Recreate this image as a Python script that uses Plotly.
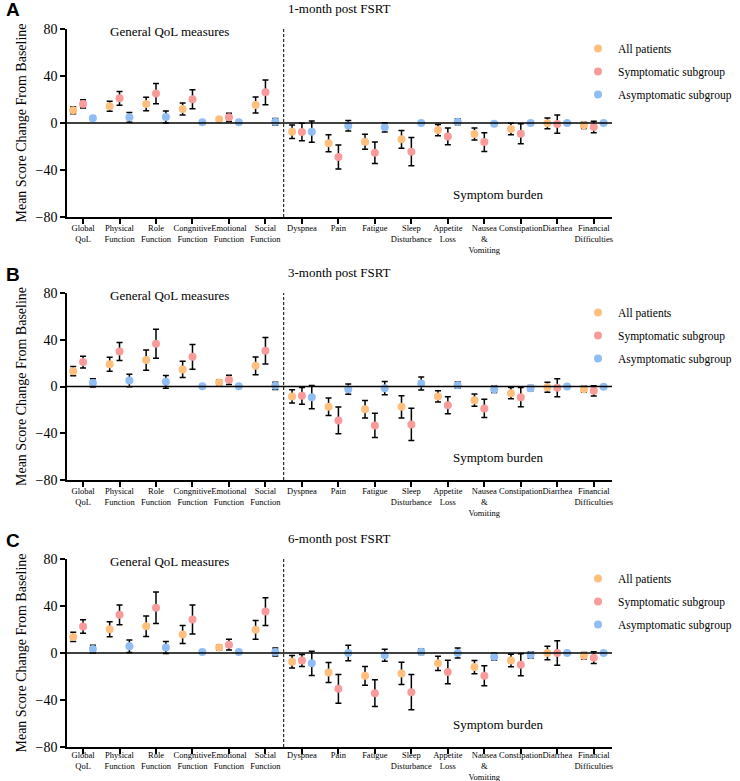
import plotly.graph_objects as go
from plotly.subplots import make_subplots

# Categories (tick labels as drawn in the figure)
tick_labels = [
    "Global<br>QoL", "Physical<br>Function", "Role<br>Function", "Congnitive<br>Function",
    "Emotional<br>Function", "Social<br>Function", "Dyspnea", "Pain", "Fatigue",
    "Sleep<br>Disturbance", "Appetite<br>Loss", "Nausea<br>&<br>Vomiting", "Constipation",
    "Diarrhea", "Financial<br>Difficulties",
]
group_names = ["All patients", "Symptomatic subgroup", "Asymptomatic subgroup"]
panel_titles = ["1-month post FSRT", "3-month post FSRT", "6-month post FSRT"]
panel_letters = ["A", "B", "C"]

# 1-month
m1_all = [10.8, 14.2, 16.2, 11.9, 3.1, 15.3, -7.4, -17.3, -15.9, -13.9, -6.0, -9.4, -5.1, -0.3, -2.0]
e1_all = [3.0, 4.3, 5.8, 5.1, 1.0, 6.8, 5.7, 7.2, 6.4, 7.5, 4.8, 5.1, 4.8, 4.5, 2.7]
m1_sym = [16.2, 21.0, 25.0, 20.2, 4.8, 26.1, -7.7, -29.0, -25.3, -24.4, -11.4, -16.2, -9.1, -0.9, -3.4]
e1_sym = [3.5, 5.8, 8.6, 8.1, 3.6, 10.6, 7.4, 10.2, 9.2, 12.0, 7.2, 8.0, 8.5, 7.8, 4.8]
m1_asym = [4.0, 4.8, 5.1, 0.6, 0.6, 1.1, -7.4, -2.3, -3.7, 0.0, 1.1, -0.6, 0.0, 0.0, 0.0]
e1_asym = [1.7, 4.1, 5.1, 0, 0, 2.8, 9.0, 4.5, 4.0, 0, 2.5, 0, 0, 0, 0]

# 3-month
m3_all = [13.1, 19.1, 22.6, 14.6, 3.4, 17.7, -8.5, -17.4, -19.4, -17.4, -8.5, -11.7, -5.7, -0.6, -2.3]
e3_all = [4.0, 6.0, 8.6, 6.9, 2.3, 7.6, 5.7, 7.5, 7.5, 9.5, 4.8, 5.3, 4.8, 4.3, 2.6]
m3_sym = [20.9, 30.0, 36.6, 25.4, 5.7, 30.6, -8.0, -29.0, -33.3, -32.5, -16.0, -18.8, -9.1, -1.1, -3.7]
e3_sym = [5.0, 7.7, 12.4, 10.6, 3.9, 11.4, 7.1, 11.4, 10.4, 13.8, 7.3, 7.8, 8.3, 7.7, 4.4]
m3_asym = [3.1, 5.1, 4.0, 0.3, 0.3, 0.6, -9.1, -2.3, -1.4, 2.6, 1.1, -2.3, -1.4, 0.0, -0.3]
e3_asym = [3.6, 5.4, 5.4, 0, 0, 3.1, 10.0, 4.4, 5.6, 5.6, 2.7, 2.8, 2.3, 0, 0]

# 6-month
m6_all = [13.7, 20.2, 22.8, 15.7, 4.6, 19.7, -7.4, -16.5, -19.4, -17.4, -8.8, -12.0, -6.3, 0.0, -2.3]
e6_all = [4.0, 6.4, 8.7, 7.7, 2.3, 8.0, 5.3, 8.5, 8.0, 9.5, 6.1, 5.6, 5.3, 5.8, 2.8]
m6_sym = [22.5, 32.5, 38.5, 28.5, 7.1, 35.3, -6.3, -30.5, -34.2, -33.3, -16.2, -19.4, -10.0, 0.0, -4.0]
e6_sym = [5.7, 8.4, 13.4, 12.3, 4.6, 11.8, 5.1, 12.3, 11.4, 15.0, 10.0, 8.5, 9.3, 10.4, 5.0]
m6_asym = [3.4, 5.7, 4.6, 0.9, 0.9, 0.9, -8.8, 0.0, -2.0, 1.1, 0.0, -3.1, -1.7, 0.0, 0.0]
e6_asym = [3.3, 5.3, 5.1, 0, 0, 3.4, 10.3, 6.6, 5.1, 2.3, 4.2, 2.8, 2.7, 0, 0]

panels = [
    [(m1_all, e1_all), (m1_sym, e1_sym), (m1_asym, e1_asym)],
    [(m3_all, e3_all), (m3_sym, e3_sym), (m3_asym, e3_asym)],
    [(m6_all, e6_all), (m6_sym, e6_sym), (m6_asym, e6_asym)],
]

colors = ["#FFBF7F", "#F99A9B", "#8FBDF4"]
offsets = [-0.27, 0.0, 0.27]
serif = "Liberation Serif"

W, H = 740, 781
# pixel layout (top, bottom) of each plot area
plot_rows = [(29, 217), (293, 480), (559, 747)]
x_left, x_right = 67, 612
# bottom panel pulls its labels up a little so "Vomiting" stays on the page
label_standoff = [-3, -3, -6]


def px_x(x):
    return x / W


def px_y(y):
    return 1 - y / H


fig = make_subplots(rows=3, cols=1)

for p, groups in enumerate(panels):
    legend_id = "legend" if p == 0 else f"legend{p + 1}"
    for g, (means, errs) in enumerate(groups):
        fig.add_trace(go.Scatter(
            x=[i + offsets[g] for i in range(len(means))],
            y=means,
            mode="markers",
            name=group_names[g],
            legend=legend_id,
            legendgroup=f"{p}-{g}",
            marker=dict(color=colors[g], size=8, line=dict(width=0)),
            error_y=dict(type="data", array=errs, color="black", thickness=1.5, width=3),
        ), row=p + 1, col=1)

    top, bottom = plot_rows[p]
    sfx = "" if p == 0 else str(p + 1)
    fig.layout[f"yaxis{sfx}"].update(
        domain=[px_y(bottom), px_y(top)],
        range=[-80, 80], tickvals=[-80, -40, 0, 40, 80],
        showline=True, linecolor="black", linewidth=1.5,
        ticks="outside", ticklen=5, tickwidth=1.5, tickcolor="black",
        showgrid=False, zeroline=False, automargin=False,
        tickfont=dict(family=serif, size=14, color="black"),
        title=dict(text="Mean Score Change From Baseline",
                   font=dict(family=serif, size=14, color="black"), standoff=6),
    )
    fig.layout[f"xaxis{sfx}"].update(
        domain=[px_x(x_left), px_x(x_right)],
        range=[-0.44, 14.5],
        tickvals=list(range(len(tick_labels))), ticktext=tick_labels,
        tickangle=0,
        showline=True, linecolor="black", linewidth=1.5,
        ticks="outside", ticklen=5, tickwidth=1.5, tickcolor="black",
        ticklabelstandoff=label_standoff[p],
        showgrid=False, zeroline=False, automargin=False,
        tickfont=dict(family=serif, size=8.5, color="black"),
    )

    xref, yref = f"x{sfx}", f"y{sfx}"
    # zero line and divider between QoL and symptom scales
    fig.add_shape(type="line", xref=f"{xref} domain", yref=yref, x0=0, x1=1, y0=0, y1=0,
                  line=dict(color="black", width=1.5))
    fig.add_shape(type="line", xref=xref, yref=yref, x0=5.5, x1=5.5, y0=-80, y1=80,
                  line=dict(color="black", width=1, dash="3px,2px"))

    fig.add_annotation(x=2.36, y=78, xref=xref, yref=yref, text="General QoL measures",
                       showarrow=False, font=dict(family=serif, size=13, color="black"))
    fig.add_annotation(x=11.37, y=-61, xref=xref, yref=yref, text="Symptom burden",
                       showarrow=False, font=dict(family=serif, size=13, color="black"))
    fig.add_annotation(x=px_x((x_left + x_right) / 2), y=px_y(top - 21), xref="paper", yref="paper",
                       text=panel_titles[p], showarrow=False, yanchor="middle",
                       font=dict(family=serif, size=13, color="black"))
    fig.add_annotation(x=px_x(4), y=px_y(top - 19), xref="paper", yref="paper",
                       text=f"<b>{panel_letters[p]}</b>", showarrow=False,
                       xanchor="left", yanchor="middle",
                       font=dict(family="Liberation Sans", size=19, color="black"))

    fig.layout[legend_id] = dict(
        x=px_x(578), y=px_y(top + 5), xanchor="left", yanchor="top",
        bgcolor="rgba(0,0,0,0)", traceorder="grouped", tracegroupgap=4,
        itemwidth=30, font=dict(family=serif, size=11.5, color="black"),
    )

fig.update_layout(
    width=W, height=H,
    margin=dict(l=0, r=0, t=0, b=0, autoexpand=False),
    plot_bgcolor="white", paper_bgcolor="white",
    showlegend=True,
)

# drop the browser's default 8px page margin so the figure fills the window
fig.write_html("out.html", config={"displayModeBar": False},
               post_script="document.body.style.margin='0';")
